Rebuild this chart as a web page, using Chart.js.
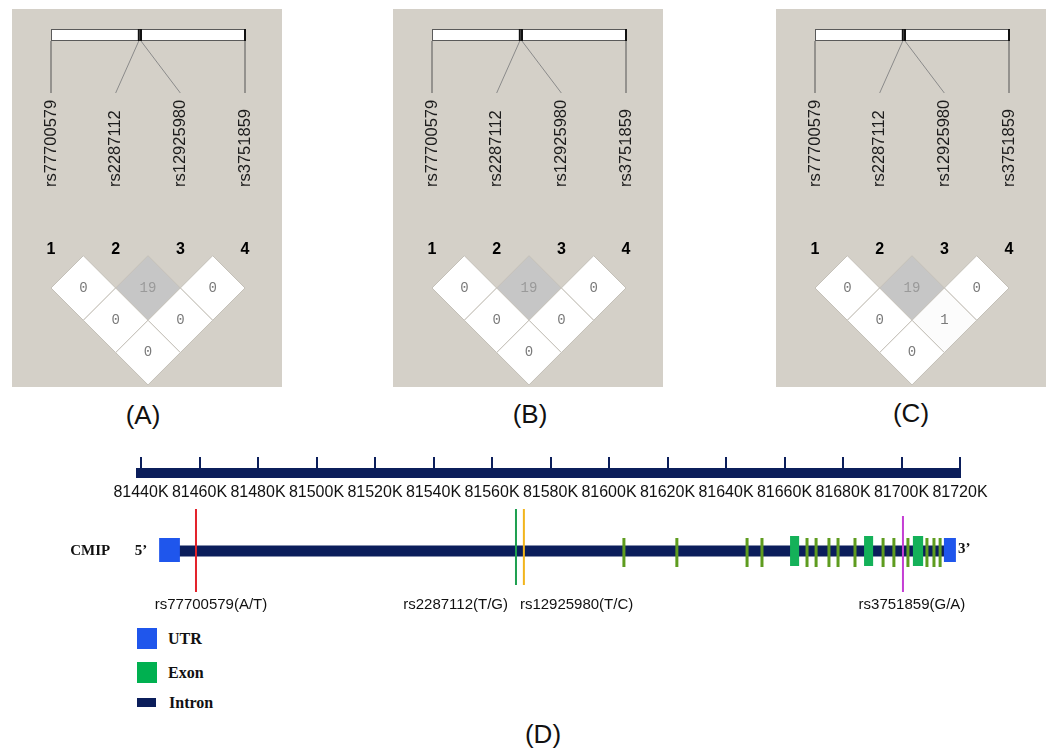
<!DOCTYPE html>
<html>
<head>
<meta charset="utf-8">
<script src="https://cdn.jsdelivr.net/npm/chart.js@4.4.1/dist/chart.umd.min.js"></script>
<style>
  body { margin: 0; width: 1050px; height: 751px; background: #fff; position: relative; overflow: hidden;
         font-family: "Liberation Sans", Arial, sans-serif; }
  .ld { position: absolute; top: 9px; background: #d4d0c8; }
  .abs { position: absolute; }
  .plabel { position: absolute; font-size: 26px; color: #111; transform: translate(-50%, -50%); }
  .leg { position: absolute; left: 137px; }
  .legtxt { position: absolute; left: 168px; font: bold 16px "Liberation Serif", "Times New Roman", serif;
            color: #111; transform: translateY(-50%); }
</style>
</head>
<body>
<canvas id="ldA" class="ld" width="270" height="378" style="left:12px"></canvas>
<canvas id="ldB" class="ld" width="270" height="378" style="left:393px"></canvas>
<canvas id="ldC" class="ld" width="270" height="378" style="left:776px"></canvas>
<canvas id="gene" class="abs" width="1050" height="120" style="left:0;top:500px"></canvas>
<canvas id="ruler" class="abs" width="1050" height="80" style="left:0;top:440px"></canvas>

<div class="plabel" style="left:143px;top:415px">(A)</div>
<div class="plabel" style="left:530px;top:414px">(B)</div>
<div class="plabel" style="left:911px;top:413px">(C)</div>
<div class="plabel" style="left:543px;top:734px">(D)</div>

<div class="leg" style="top:628px;width:20px;height:21px;background:#1f56ec"></div>
<div class="legtxt" style="top:639px">UTR</div>
<div class="leg" style="top:662px;width:20px;height:21px;background:#00b050"></div>
<div class="legtxt" style="top:673px">Exon</div>
<div class="leg" style="top:698px;width:19px;height:9px;background:#0b1e5b"></div>
<div class="legtxt" style="top:703px;left:169px">Intron</div>

<script>
// markers (same four SNPs in every LD panel)
const markers = ['rs77700579', 'rs2287112', 'rs12925980', 'rs3751859'];
const markerPosK = [81458.8, 81568.2, 81570.9, 81700.5];   // physical position, kb

// LD cells: marker pairs, then the value shown in each panel
const ldPairs = [[1, 2], [2, 3], [3, 4], [1, 3], [2, 4], [1, 4]];
const ldValuesA = [0, 19, 0, 0, 0, 0];
const ldValuesB = [0, 19, 0, 0, 0, 0];
const ldValuesC = [0, 19, 0, 0, 1, 0];

// gene structure of CMIP (kb)
const intronK = [[81450.0, 81716.0]];
const utrK = [[81446.2, 81453.3], [81714.5, 81718.6]];
const exonBoxK = [[81661.9, 81665.0], [81687.2, 81690.3], [81703.9, 81707.4]];
const exonThinK = [81605.1, 81623.2, 81647.2, 81652.3, 81667.7, 81670.8, 81675.2, 81678.3,
                   81684.1, 81693.7, 81697.4, 81702.2, 81708.7, 81711.1, 81713.2];
const snpLabels = ['rs77700579(A/T)', 'rs2287112(T/G)', 'rs12925980(T/C)', 'rs3751859(G/A)'];

// ruler
const rulerMinK = 81440;
const rulerMaxK = 81720;
const rulerStepK = 20;

// ---- styles / layout ----
const snpColors = ['#e3232b', '#1fa050', '#f2b51c', '#c43fd4'];
const snpTop = [-42, -42, -42, -35];
const snpBottom = [41, 34, 34, 41];
const snpLabelAlign = ['center', 'right', 'left', 'center'];
const snpLabelDx = [15, -8, -4, 9];
const NAVY = '#0b1e5b';

const LD_UNIT = 32.3;
const LD_YMIN = 1 - 279 / LD_UNIT;
const LD_YMAX = LD_YMIN + 378 / LD_UNIT;

function shade(v) {
  const g = Math.max(0, 255 - 3 * v);
  return `rgb(${g},${g},${g})`;
}

function line(ctx, x1, y1, x2, y2) {
  ctx.beginPath();
  ctx.moveTo(x1, y1);
  ctx.lineTo(x2, y2);
  ctx.stroke();
}

// header of a Haploview panel: marker map bar, connectors, names, numbers
const ldHeader = {
  id: 'ldHeader',
  beforeDatasetsDraw(chart) {
    const { ctx, scales: { x } } = chart;
    const n = markers.length;
    const p0 = markerPosK[0], p1 = markerPosK[n - 1];
    const physX = markerPosK.map(p => x.getPixelForValue(1 + (p - p0) / (p1 - p0) * (n - 1)));
    const idxX = markers.map((m, i) => x.getPixelForValue(i + 1));
    const barTop = 20, barH = 11, lineEnd = 84, nameEnd = 178, numY = 241;
    ctx.save();
    ctx.fillStyle = '#fff';
    ctx.fillRect(physX[0], barTop, physX[n - 1] - physX[0], barH);
    ctx.strokeStyle = '#5a5a5a';
    ctx.lineWidth = 1;
    ctx.strokeRect(Math.round(physX[0]) + 0.5, barTop + 0.5, physX[n - 1] - physX[0], barH);
    ctx.strokeStyle = '#111';
    ctx.lineWidth = 2;
    physX.forEach((px, i) => { if (i > 0) line(ctx, px, barTop, px, barTop + barH + 1); });
    ctx.lineWidth = 1;
    physX.forEach((px, i) => {
      ctx.strokeStyle = (i === 0 || i === n - 1) ? '#555' : '#8a8a8a';
      line(ctx, px, barTop + barH + 1, idxX[i], lineEnd);
    });
    ctx.fillStyle = '#1c1c1c';
    ctx.font = '16.5px "Liberation Sans", Arial, sans-serif';
    ctx.textAlign = 'left';
    ctx.textBaseline = 'middle';
    idxX.forEach((px, i) => {
      ctx.save();
      ctx.translate(px, nameEnd);
      ctx.rotate(-Math.PI / 2);
      ctx.fillText(markers[i], 0, 0);
      ctx.restore();
    });
    ctx.font = 'bold 16px "Liberation Sans", Arial, sans-serif';
    ctx.textAlign = 'center';
    ctx.fillStyle = '#000';
    idxX.forEach((px, i) => ctx.fillText(String(i + 1), px, numY));
    ctx.restore();
  }
};

const ldCellText = {
  id: 'ldCellText',
  afterDatasetsDraw(chart) {
    const { ctx } = chart;
    const ds = chart.data.datasets[0];
    ctx.save();
    ctx.font = '14px "Liberation Mono", "DejaVu Sans Mono", monospace';
    ctx.textAlign = 'center';
    ctx.textBaseline = 'middle';
    chart.getDatasetMeta(0).data.forEach((el, k) => {
      const v = ds.data[k].v;
      ctx.fillStyle = v >= 10 ? '#9a9a9a' : '#7a7a7a';
      ctx.fillText(String(v), el.x, el.y);
    });
    ctx.restore();
  }
};

function ldChart(id, values) {
  return new Chart(document.getElementById(id), {
    type: 'scatter',
    data: {
      datasets: [{
        data: ldPairs.map((p, k) => ({ x: (p[0] + p[1]) / 2, y: p[1] - p[0], v: values[k] })),
        pointStyle: 'rectRot',
        pointRadius: ctx => {
          const s = ctx.chart.scales.x;
          return (s.getPixelForValue(2) - s.getPixelForValue(1)) / 2;
        },
        pointBackgroundColor: ctx => shade(ctx.raw.v),
        pointBorderColor: '#c4c0b8',
        pointBorderWidth: 1,
        clip: false
      }]
    },
    options: {
      responsive: false,
      animation: false,
      events: [],
      layout: { padding: { left: 39, right: 37, top: 0, bottom: 0 } },
      plugins: { legend: { display: false }, tooltip: { enabled: false } },
      scales: {
        x: { type: 'linear', display: false, min: 1, max: markers.length },
        y: { type: 'linear', display: false, reverse: true, min: LD_YMIN, max: LD_YMAX }
      }
    },
    plugins: [ldHeader, ldCellText]
  });
}

ldChart('ldA', ldValuesA);
ldChart('ldB', ldValuesB);
ldChart('ldC', ldValuesC);

// ruler: the x axis itself; negative tick marks stand up from the thick axis line
new Chart(document.getElementById('ruler'), {
  type: 'scatter',
  data: { datasets: [{ data: [] }] },
  options: {
    responsive: false,
    animation: false,
    events: [],
    layout: { padding: { left: 141, right: 90, top: 0, bottom: 14 } },
    plugins: { legend: { display: false }, tooltip: { enabled: false } },
    scales: {
      x: {
        type: 'linear',
        position: 'bottom',
        min: rulerMinK,
        max: rulerMaxK,
        grid: { color: NAVY, lineWidth: 2, drawTicks: true, tickLength: -16, drawOnChartArea: false },
        border: { display: true, color: NAVY, width: 10 },
        ticks: {
          stepSize: rulerStepK,
          autoSkip: false,
          maxRotation: 0,
          padding: 26,
          color: '#111',
          font: { size: 16, family: '"Liberation Sans", Arial, sans-serif' },
          callback: v => v + 'K'
        }
      },
      y: { display: false, min: 0, max: 1 }
    }
  }
});

// gene model: every block is a thick line segment through the x (kb) scale
function segs(ranges, y) {
  const out = [];
  ranges.forEach(r => { out.push({ x: r[0], y }, { x: r[1], y }, { x: r[1], y: null }); });
  return out;
}
function vsegs(xs, y1, y2) {
  const out = [];
  xs.forEach(p => { out.push({ x: p, y: y1 }, { x: p, y: y2 }, { x: p, y: null }); });
  return out;
}
const segStyle = { showLine: true, pointRadius: 0, borderCapStyle: 'butt', spanGaps: false, clip: false };

const geneDatasets = [
  ...markerPosK.map((p, i) => ({
    ...segStyle, data: vsegs([p], snpTop[i], snpBottom[i]), borderColor: snpColors[i], borderWidth: 2
  })),
  { ...segStyle, data: vsegs(exonThinK, -13, 16), borderColor: '#5e9c1f', borderWidth: 3 },
  { ...segStyle, data: segs(exonBoxK, 0), borderColor: '#14b159', borderWidth: 30 },
  { ...segStyle, data: segs(utrK, -1), borderColor: '#1f56ec', borderWidth: 24 },
  { ...segStyle, data: segs(intronK, 0), borderColor: NAVY, borderWidth: 11 }
];

const geneText = {
  id: 'geneText',
  afterDatasetsDraw(chart) {
    const { ctx, scales: { x, y } } = chart;
    ctx.save();
    ctx.fillStyle = '#111';
    ctx.textBaseline = 'middle';
    ctx.font = '15px "Liberation Sans", Arial, sans-serif';
    markerPosK.forEach((p, i) => {
      ctx.textAlign = snpLabelAlign[i];
      ctx.fillText(snpLabels[i], x.getPixelForValue(p) + snpLabelDx[i], y.getPixelForValue(54));
    });
    ctx.font = 'bold 15px "Liberation Serif", "Times New Roman", serif';
    const y0 = y.getPixelForValue(0);
    ctx.textAlign = 'right';
    ctx.fillText('5\u2019', x.getPixelForValue(utrK[0][0]) - 12, y0);
    ctx.fillText('CMIP', x.getPixelForValue(utrK[0][0]) - 49, y0);
    ctx.textAlign = 'left';
    ctx.fillText('3\u2019', x.getPixelForValue(utrK[1][1]) + 2, y0 - 2);
    ctx.restore();
  }
};

new Chart(document.getElementById('gene'), {
  type: 'scatter',
  data: { datasets: geneDatasets },
  options: {
    responsive: false,
    animation: false,
    events: [],
    layout: { padding: { left: 141, right: 90, top: 0, bottom: 0 } },
    plugins: { legend: { display: false }, tooltip: { enabled: false } },
    scales: {
      x: { type: 'linear', display: false, min: rulerMinK, max: rulerMaxK },
      y: { type: 'linear', display: false, reverse: true, min: -51, max: 69 }
    }
  },
  plugins: [geneText]
});
</script>
</body>
</html>
